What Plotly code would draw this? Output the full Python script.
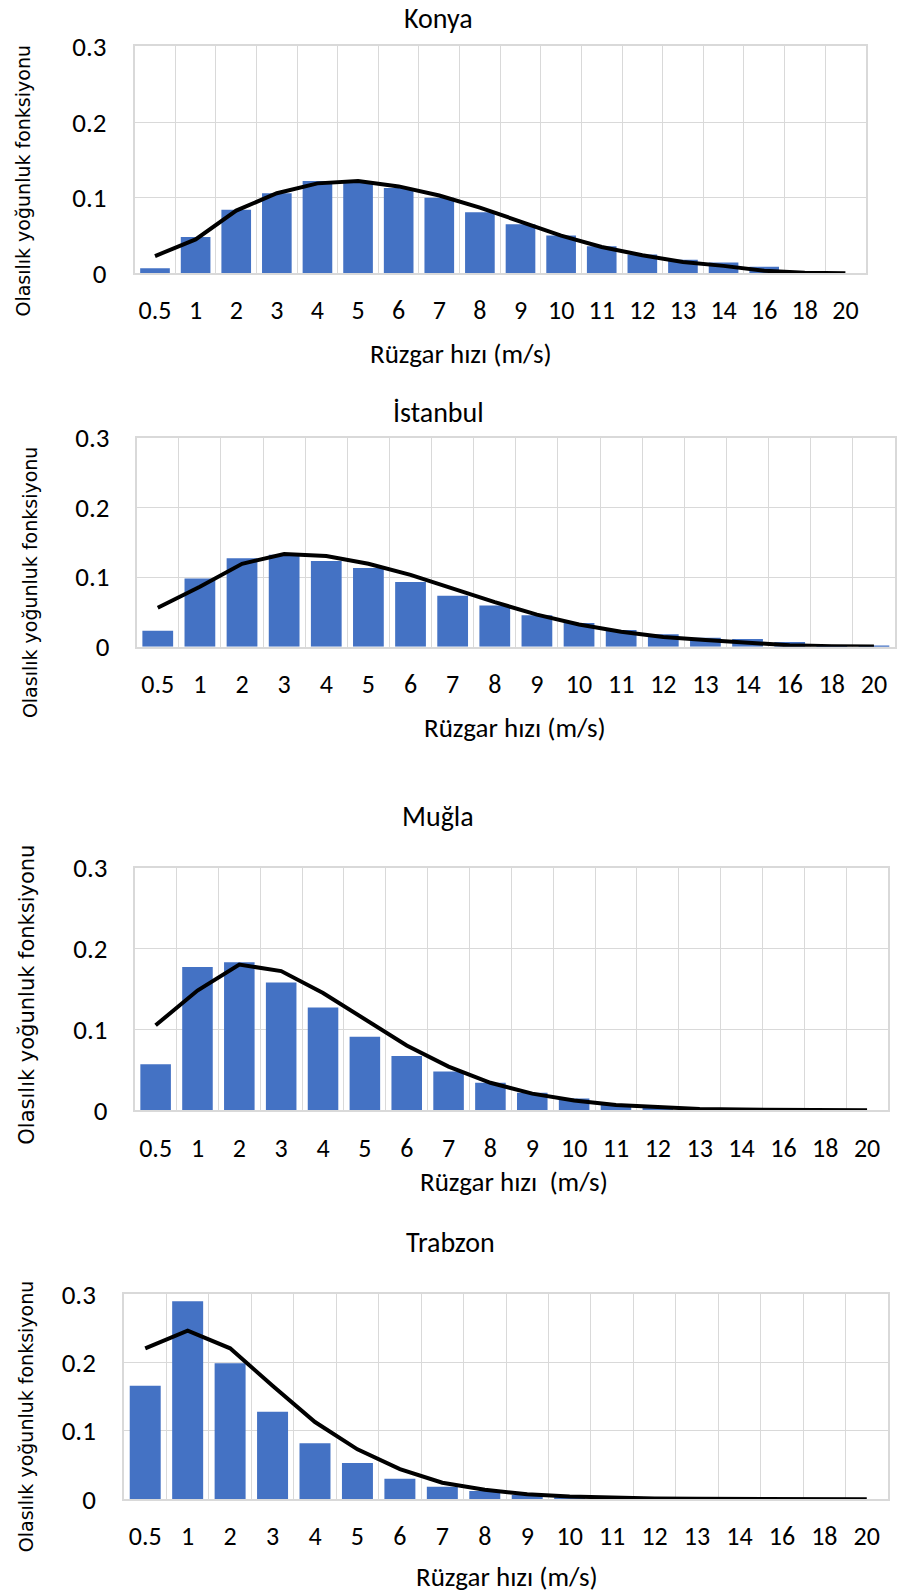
import plotly.graph_objects as go

speed_labels = ["0.5", "1", "2", "3", "4", "5", "6", "7", "8", "9",
                "10", "11", "12", "13", "14", "16", "18", "20"]

konya_obs = [0.007, 0.048, 0.084, 0.106, 0.122, 0.121, 0.113, 0.100, 0.081,
             0.065, 0.050, 0.036, 0.025, 0.018, 0.0145, 0.009, 0.001, 0.0]
konya_fit = [0.023, 0.045, 0.083, 0.106, 0.119, 0.122, 0.115, 0.103, 0.087,
             0.068, 0.050, 0.035, 0.024, 0.015, 0.010, 0.0035, 0.001, 0.0003]

istanbul_obs = [0.023, 0.098, 0.127, 0.132, 0.123, 0.113, 0.093, 0.073, 0.059,
                0.045, 0.034, 0.024, 0.018, 0.013, 0.011, 0.0067, 0.002, 0.001]
istanbul_fit = [0.056, 0.086, 0.119, 0.133, 0.130, 0.119, 0.103, 0.083, 0.064,
                0.046, 0.032, 0.0215, 0.014, 0.0096, 0.006, 0.002, 0.0007, 0.0002]

mugla_obs = [0.057, 0.177, 0.183, 0.158, 0.127, 0.091, 0.067, 0.048, 0.034,
             0.0215, 0.0145, 0.007, 0.003, 0.001, 0.0005, 0.0, 0.0, 0.0]
mugla_fit = [0.105, 0.148, 0.180, 0.172, 0.145, 0.112, 0.080, 0.054, 0.034,
             0.0206, 0.012, 0.0066, 0.0037, 0.0017, 0.0008, 0.0002, 0.0, 0.0]

trabzon_obs = [0.166, 0.290, 0.199, 0.128, 0.082, 0.053, 0.030, 0.018, 0.012,
               0.006, 0.002, 0.001, 0.0, 0.0, 0.0, 0.0, 0.0, 0.0]
trabzon_fit = [0.221, 0.247, 0.221, 0.166, 0.113, 0.073, 0.044, 0.024, 0.0137,
               0.0073, 0.0039, 0.002, 0.001, 0.0005, 0.0002, 0.0001, 0.0, 0.0]

y_ticks = [0, 0.1, 0.2, 0.3]
y_tick_text = ["0", "0.1", "0.2", "0.3"]

titles = ["Konya", "İstanbul", "Muğla", "Trabzon"]
x_titles = ["Rüzgar hızı (m/s)", "Rüzgar hızı (m/s)", "Rüzgar hızı  (m/s)", "Rüzgar hızı (m/s)"]
y_title = "Olasılık yoğunluk fonksiyonu"

W, H = 897, 1596
BAR = "#4472C4"
GRID = "#d9d9d9"
TICKFONT = "Carlito, Calibri, 'Liberation Sans', Arial, sans-serif"
YTFONT = "'DejaVu Sans', Verdana, sans-serif"


def Y(v):
    # vertical placement (pixels from top) -> page pixel used for layout
    return (0.982 * v - 16) / 0.9627


panels = [
    dict(obs=konya_obs, fit=konya_fit, l=134.7, r=865.7, t=45.7, b=273,
         tt=(438, 18), xt=(461, 353), yt=(23, 180, 19), xtl=13, ytl=21),
    dict(obs=istanbul_obs, fit=istanbul_fit, l=136.7, r=895, t=437.3, b=646.7,
         tt=(438, 412), xt=(515, 728), yt=(30, 582, 19), xtl=13, ytl=20),
    dict(obs=mugla_obs, fit=mugla_fit, l=134.7, r=888, t=867.7, b=1110.7,
         tt=(438, 817), xt=(514, 1182), yt=(27, 995, 21), xtl=14, ytl=20),
    dict(obs=trabzon_obs, fit=trabzon_fit, l=124, r=888, t=1295, b=1500,
         tt=(451, 1243), xt=(507, 1577), yt=(26, 1417, 19), xtl=13, ytl=21),
]

xs = list(range(len(speed_labels)))
fig = go.Figure()
annotations = []

for i, p in enumerate(panels):
    n = "" if i == 0 else str(i + 1)
    xa, ya = "x" + n, "y" + n
    fig.add_trace(go.Bar(x=xs, y=p["obs"], marker=dict(color=BAR, line=dict(width=0)),
                         xaxis=xa, yaxis=ya, showlegend=False, hoverinfo="y"))
    fig.add_trace(go.Scatter(x=xs, y=p["fit"], mode="lines",
                             line=dict(color="black", width=4),
                             xaxis=xa, yaxis=ya, showlegend=False))
    xdom = [p["l"] / W, p["r"] / W]
    ydom = [1 - Y(p["b"]) / H, 1 - Y(p["t"]) / H]
    fig.layout["xaxis" + n] = dict(
        domain=xdom, anchor=ya, range=[-0.5, len(xs) - 0.5],
        tickmode="array", tickvals=xs, ticktext=speed_labels,
        ticks="outside", ticklen=p["xtl"], tickcolor="rgba(0,0,0,0)",
        showgrid=False, zeroline=False,
        showline=True, linecolor=GRID, linewidth=1.5, mirror=True,
        tickfont=dict(family=TICKFONT, size=26, color="black"),
        minor=dict(tickmode="array", tickvals=[v - 0.5 for v in xs] + [len(xs) - 0.5],
                   showgrid=True, gridcolor=GRID, gridwidth=1.3, ticks=""),
        fixedrange=True,
    )
    fig.layout["yaxis" + n] = dict(
        domain=ydom, anchor=xa, range=[0, 0.3],
        tickmode="array", tickvals=y_ticks, ticktext=y_tick_text,
        ticks="outside", ticklen=p["ytl"], tickcolor="rgba(0,0,0,0)",
        showgrid=True, gridcolor=GRID, gridwidth=1.3, zeroline=False,
        showline=True, linecolor=GRID, linewidth=1.5, mirror=True,
        tickfont=dict(family=TICKFONT, size=27, color="black"),
        fixedrange=True,
    )
    annotations.append(dict(text=titles[i], x=p["tt"][0] / W, y=1 - Y(p["tt"][1]) / H,
                            xref="paper", yref="paper", showarrow=False,
                            xanchor="center", yanchor="middle",
                            font=dict(family=TICKFONT, size=28, color="black")))
    annotations.append(dict(text=x_titles[i], x=p["xt"][0] / W, y=1 - Y(p["xt"][1]) / H,
                            xref="paper", yref="paper", showarrow=False,
                            xanchor="center", yanchor="middle",
                            font=dict(family=TICKFONT, size=27, color="black")))
    annotations.append(dict(text=y_title, x=p["yt"][0] / W, y=1 - Y(p["yt"][1]) / H,
                            xref="paper", yref="paper", showarrow=False, textangle=-90,
                            xanchor="center", yanchor="middle",
                            font=dict(family=YTFONT, size=p["yt"][2], color="black")))

fig.update_layout(
    width=W, height=H, margin=dict(l=0, r=0, t=0, b=0),
    paper_bgcolor="white", plot_bgcolor="white",
    bargap=0.27, annotations=annotations, showlegend=False,
)

fig.write_html(
    "out.html",
    config={"displayModeBar": False},
    post_script="document.body.style.margin='0';document.body.style.overflow='hidden';",
)
